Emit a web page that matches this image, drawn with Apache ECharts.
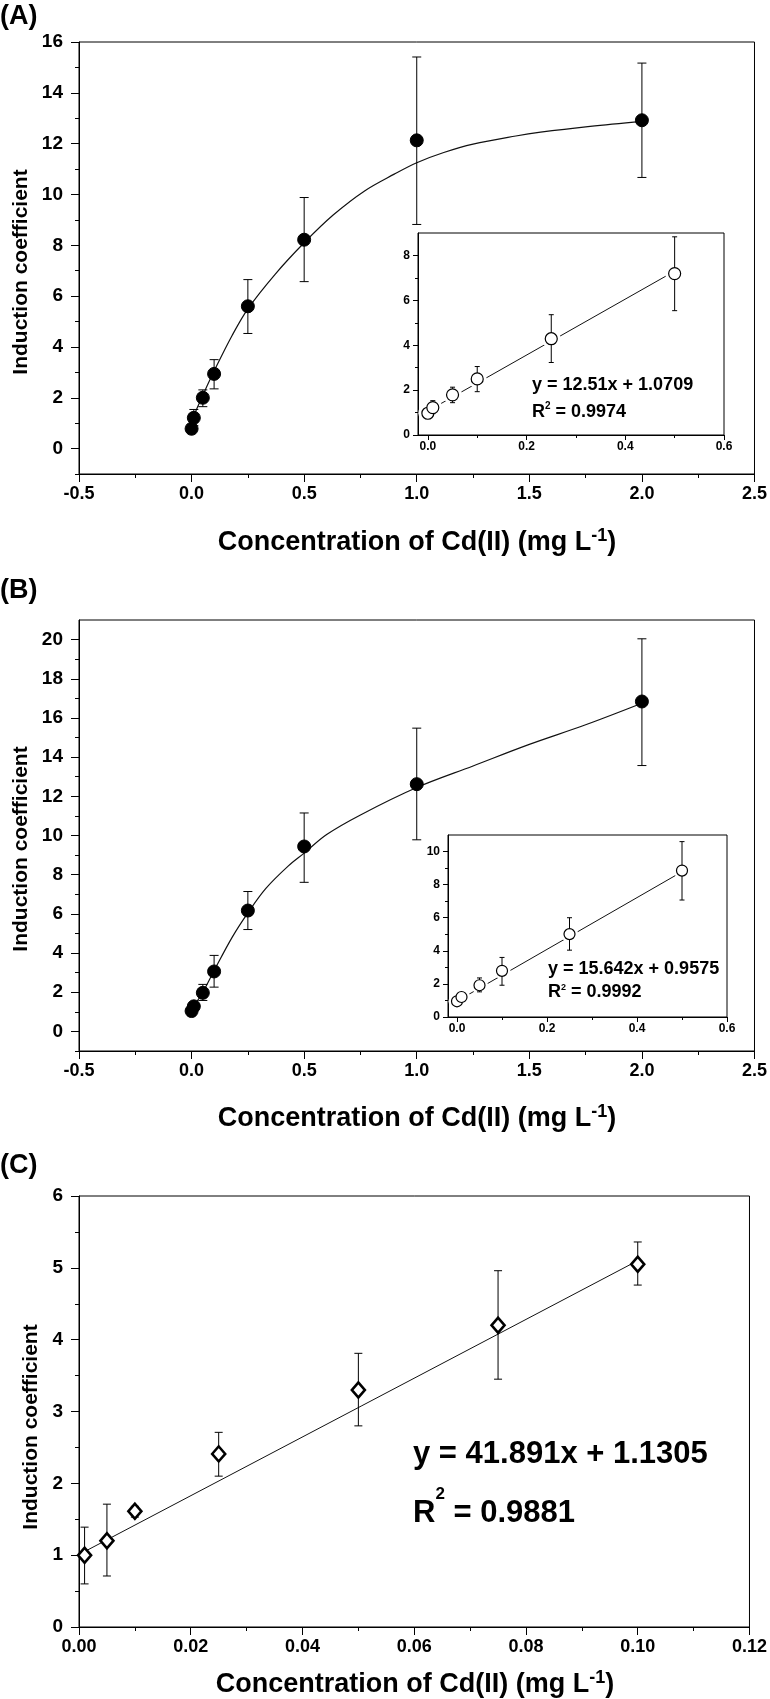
<!DOCTYPE html>
<html>
<head>
<meta charset="utf-8">
<script src="https://cdn.jsdelivr.net/npm/echarts@6/dist/echarts.min.js"></script>
<style>html,body{margin:0;padding:0;background:#fff}#c{width:770px;height:1699px}</style>
</head>
<body>
<div id="c"></div>
<script>
// ---------- DATA ----------
// Panel A (main)
const aX = [0, 0.01, 0.05, 0.1, 0.25, 0.5, 1.0, 2.0];
const aY = [0.78, 1.21, 2.0, 2.94, 5.6, 8.22, 12.13, 12.92];
const aLow = [0.72, 0.9, 1.65, 2.35, 4.53, 6.57, 8.82, 10.67];
const aHigh = [0.84, 1.54, 2.31, 3.5, 6.65, 9.88, 15.41, 15.17];
const aCurveX = [0.01, 0.05, 0.1, 0.18, 0.25, 0.37, 0.5, 0.63, 0.77, 0.9, 1.0, 1.12, 1.25, 1.44, 1.55, 1.77, 2.0];
const aCurveY = [1.3, 2.1, 3.05, 4.45, 5.5, 6.85, 8.1, 9.2, 10.15, 10.8, 11.25, 11.65, 11.98, 12.3, 12.45, 12.68, 12.88];
// Panel A (inset)
const aInX = [0, 0.01, 0.05, 0.1, 0.25, 0.5];
const aInY = [0.97, 1.22, 1.79, 2.5, 4.29, 7.19];
const aInLow = [0.85, 0.95, 1.44, 1.93, 3.23, 5.54];
const aInHigh = [1.1, 1.53, 2.13, 3.05, 5.36, 8.83];
const aInFitX = [0, 0.5];
const aInFitY = [1.07, 7.3];
// Panel B (main)
const bX = [0, 0.01, 0.05, 0.1, 0.25, 0.5, 1.0, 2.0];
const bY = [1.04, 1.28, 1.97, 3.06, 6.17, 9.44, 12.62, 16.84];
const bLow = [0.95, 1.15, 1.58, 2.26, 5.2, 7.61, 9.78, 13.57];
const bHigh = [1.12, 1.4, 2.4, 3.88, 7.14, 11.15, 15.48, 20.04];
const bCurveX = [0.01, 0.05, 0.1, 0.18, 0.25, 0.33, 0.43, 0.5, 0.6, 0.75, 1.0, 1.25, 1.5, 1.75, 2.0];
const bCurveY = [1.3, 2.0, 3.1, 4.8, 6.05, 7.3, 8.45, 9.1, 10.05, 11.05, 12.45, 13.55, 14.65, 15.65, 16.75];
// Panel B (inset)
const bInX = [0, 0.01, 0.05, 0.1, 0.25, 0.5];
const bInY = [0.95, 1.21, 1.92, 2.79, 5.01, 8.85];
const bInLow = [0.85, 1.0, 1.52, 1.92, 4.04, 7.07];
const bInHigh = [1.05, 1.4, 2.36, 3.6, 6.0, 10.6];
const bInFitX = [0, 0.5];
const bInFitY = [0.96, 8.78];
// Panel C
const cX = [0.001, 0.005, 0.01, 0.025, 0.05, 0.075, 0.1];
const cY = [1.0, 1.2, 1.61, 2.41, 3.3, 4.2, 5.05];
const cLow = [0.6, 0.71, 1.53, 2.1, 2.8, 3.45, 4.76];
const cHigh = [1.39, 1.71, 1.68, 2.71, 3.81, 4.96, 5.36];
const cFitX = [0.001, 0.1];
const cFitY = [1.05, 5.1];

// Tick values
const mainXTicks = [-0.5, 0, 0.5, 1.0, 1.5, 2.0, 2.5];
const mainXMinor = [-0.25, 0.25, 0.75, 1.25, 1.75, 2.25];
const aYTicks = [0, 2, 4, 6, 8, 10, 12, 14, 16];
const aYMinor = [-1, 1, 3, 5, 7, 9, 11, 13, 15];
const bYTicks = [0, 2, 4, 6, 8, 10, 12, 14, 16, 18, 20];
const bYMinor = [-1, 1, 3, 5, 7, 9, 11, 13, 15, 17, 19];
const inXTicks = [0, 0.2, 0.4, 0.6];
const inXMinor = [0.1, 0.3, 0.5];
const aInYTicks = [0, 2, 4, 6, 8];
const aInYMinor = [1, 3, 5, 7];
const bInYTicks = [0, 2, 4, 6, 8, 10];
const bInYMinor = [1, 3, 5, 7, 9];
const cXTicks = [0, 0.02, 0.04, 0.06, 0.08, 0.10, 0.12];
const cXMinor = [0.01, 0.03, 0.05, 0.07, 0.09, 0.11];
const cYTicks = [0, 1, 2, 3, 4, 5, 6];
const cYMinor = [0.5, 1.5, 2.5, 3.5, 4.5, 5.5];

// Texts
const xTitle = 'Concentration of Cd(II) (mg L';
const yTitle = 'Induction coefficient';
const eqA = 'y = 12.51x + 1.0709', r2A = ' = 0.9974';
const eqB = 'y = 15.642x + 0.9575', r2B = ' = 0.9992';
const eqC = 'y = 41.891x + 1.1305', r2C = ' = 0.9881';

// ---------- CHART ----------
const FONT = "'Liberation Sans', Arial, sans-serif";
const zip = (xs, ys) => xs.map((x, i) => [x, ys[i]]);
const zip3 = (xs, lo, hi) => xs.map((x, i) => [x, lo[i], hi[i]]);

function axisPair(dim, gi, min, max, majors, minors, o) {
  const major = {
    type: 'value', gridIndex: gi, min: min, max: max,
    position: dim === 'x' ? 'bottom' : 'left',
    axisLine: { show: true, onZero: false, lineStyle: { color: '#000', width: 1 } },
    axisTick: { show: true, inside: false, customValues: majors, length: o.tick, lineStyle: { color: '#000', width: 1 } },
    axisLabel: { show: true, customValues: majors, formatter: o.fmt, color: '#000', fontFamily: FONT,
      fontWeight: 'bold', fontSize: o.fs, margin: o.margin },
    splitLine: { show: false }, minorTick: { show: false }
  };
  const minor = {
    type: 'value', gridIndex: gi, min: min, max: max,
    position: dim === 'x' ? 'bottom' : 'left',
    axisLine: { show: false, onZero: false },
    axisTick: { show: true, inside: false, customValues: minors, length: o.minor, lineStyle: { color: '#000', width: 1 } },
    axisLabel: { show: false },
    splitLine: { show: false }
  };
  return [major, minor];
}

function errRender(cap, lw) {
  return function (params, api) {
    const x = api.value(0), lo = api.value(1), hi = api.value(2);
    const p1 = api.coord([x, lo]), p2 = api.coord([x, hi]);
    const st = { stroke: '#000', lineWidth: lw };
    return {
      type: 'group', children: [
        { type: 'line', shape: { x1: p1[0], y1: p1[1], x2: p2[0], y2: p2[1] }, style: st },
        { type: 'line', shape: { x1: p1[0] - cap, y1: p1[1], x2: p1[0] + cap, y2: p1[1] }, style: st },
        { type: 'line', shape: { x1: p2[0] - cap, y1: p2[1], x2: p2[0] + cap, y2: p2[1] }, style: st }
      ]
    };
  };
}

const f1 = v => v.toFixed(1);
const f2 = v => v.toFixed(2);
const f0 = v => String(Math.round(v));

const mainX = { tick: 8, minor: 4, fs: 18, margin: 11, fmt: f1 };
const mainY = { tick: 8, minor: 4, fs: 19, margin: 16, fmt: f0 };
const inX = { tick: 5, minor: 3, fs: 12, margin: 6, fmt: f1 };
const inY = { tick: 5, minor: 3, fs: 12, margin: 8, fmt: f0 };

const grids = [
  { left: 79, top: 42, width: 676, height: 432 },     // A main
  { left: 418, top: 233, width: 306, height: 202 },   // A inset
  { left: 79, top: 620, width: 676, height: 431 },    // B main
  { left: 448, top: 835, width: 279, height: 182 },   // B inset
  { left: 79, top: 1196, width: 672, height: 431 }    // C
].map(g => Object.assign({ show: true, borderColor: '#000', borderWidth: 1, backgroundColor: 'transparent', containLabel: false }, g));

const xAxis = [].concat(
  axisPair('x', 0, -0.5, 2.5, mainXTicks, mainXMinor, mainX),
  axisPair('x', 1, -0.02, 0.6, inXTicks, inXMinor, inX),
  axisPair('x', 2, -0.5, 2.5, mainXTicks, mainXMinor, mainX),
  axisPair('x', 3, -0.02, 0.6, inXTicks, inXMinor, inX),
  axisPair('x', 4, 0, 0.12, cXTicks, cXMinor, Object.assign({}, mainX, { fmt: f2, margin: 11 }))
);
const yAxis = [].concat(
  axisPair('y', 0, -1, 16, aYTicks, aYMinor, mainY),
  axisPair('y', 1, 0, 9, aInYTicks, aInYMinor, inY),
  axisPair('y', 2, -1, 21, bYTicks, bYMinor, mainY),
  axisPair('y', 3, 0, 11, bInYTicks, bInYMinor, inY),
  axisPair('y', 4, 0, 6, cYTicks, cYMinor, mainY)
);

function panelSeries(ai, d) {
  const s = [];
  if (d.curve) s.push({ type: 'line', xAxisIndex: ai, yAxisIndex: ai, data: d.curve, smooth: d.smooth || false,
    showSymbol: false, symbol: 'none', lineStyle: { color: '#111', width: d.lw || 1.1 }, z: 2, silent: true, animation: false });
  if (d.halo) s.push({ type: 'scatter', xAxisIndex: ai, yAxisIndex: ai, data: d.pts, symbol: 'circle', symbolSize: d.halo,
    itemStyle: { color: '#fff', opacity: 1 }, z: 3, silent: true, animation: false });
  s.push({ type: 'custom', xAxisIndex: ai, yAxisIndex: ai, data: d.err, renderItem: errRender(d.cap, 1), z: 4, clip: false, silent: true, animation: false });
  s.push({ type: 'scatter', xAxisIndex: ai, yAxisIndex: ai, data: d.pts, symbol: d.symbol, symbolSize: d.size,
    itemStyle: d.item, z: 5, silent: true, animation: false });
  return s;
}

const filled = { color: '#000', borderColor: '#000', borderWidth: 1, opacity: 1 };
const open = { color: '#fff', borderColor: '#000', borderWidth: 1.2, opacity: 1 };
const openDiamond = { color: '#fff', borderColor: '#000', borderWidth: 2.6, opacity: 1 };

const series = [].concat(
  panelSeries(0, { curve: zip(aCurveX, aCurveY), smooth: 0.35, lw: 1.2, err: zip3(aX, aLow, aHigh), cap: 4.5, pts: zip(aX, aY), symbol: 'circle', size: 13, item: filled }),
  panelSeries(2, { curve: zip(aInFitX, aInFitY), lw: 1, halo: 19, err: zip3(aInX, aInLow, aInHigh), cap: 2.5, pts: zip(aInX, aInY), symbol: 'circle', size: 12, item: open }),
  panelSeries(4, { curve: zip(bCurveX, bCurveY), smooth: 0.35, lw: 1.2, err: zip3(bX, bLow, bHigh), cap: 4.5, pts: zip(bX, bY), symbol: 'circle', size: 13, item: filled }),
  panelSeries(6, { curve: zip(bInFitX, bInFitY), lw: 1, halo: 17, err: zip3(bInX, bInLow, bInHigh), cap: 2.5, pts: zip(bInX, bInY), symbol: 'circle', size: 11, item: open }),
  panelSeries(8, { curve: zip(cFitX, cFitY), lw: 1, err: zip3(cX, cLow, cHigh), cap: 4, pts: zip(cX, cY), symbol: 'diamond', size: [13, 15], item: openDiamond })
);

function txt(x, y, text, fs, extra) {
  return Object.assign({ type: 'text', x: x, y: y, silent: true,
    style: Object.assign({ text: text, fontSize: fs, fontWeight: 'bold', fontFamily: FONT, fill: '#000',
      textAlign: 'left', textVerticalAlign: 'middle' }, extra && extra.style || {}) }, extra && extra.el || {});
}
function xTitleEl(cx, cy) {
  return { type: 'text', x: cx, y: cy, silent: true, style: {
    text: '{a|' + xTitle + '}{s|-1}{a|)}', textAlign: 'center', textVerticalAlign: 'middle',
    rich: {
      a: { fontSize: 27, fontFamily: FONT, fontWeight: 'bold', fill: '#000', verticalAlign: 'bottom' },
      s: { fontSize: 18, fontFamily: FONT, fontWeight: 'bold', fill: '#000', padding: [0, 0, 11, 0], verticalAlign: 'bottom' }
    } } };
}
function yTitleEl(cx, cy) {
  return { type: 'text', x: cx, y: cy, rotation: Math.PI / 2, silent: true, style: {
    text: yTitle, fontSize: 21, fontWeight: 'bold', fontFamily: FONT, fill: '#000',
    textAlign: 'center', textVerticalAlign: 'middle' } };
}
function r2El(x, y, rest, fs, sfs, pad) {
  return { type: 'text', x: x, y: y, silent: true, style: {
    text: '{r|R}{s|2}{r|' + rest + '}', textAlign: 'left', textVerticalAlign: 'middle',
    rich: {
      r: { fontSize: fs, fontFamily: FONT, fontWeight: 'bold', fill: '#000', verticalAlign: 'bottom' },
      s: { fontSize: sfs, fontFamily: FONT, fontWeight: 'bold', fill: '#000', padding: [0, 0, pad, 0], verticalAlign: 'bottom' }
    } } };
}

const graphic = [
  txt(0, 17, '(A)', 27),
  txt(0, 591, '(B)', 27),
  txt(0, 1166, '(C)', 27),
  xTitleEl(417, 542),
  xTitleEl(417, 1118),
  xTitleEl(415, 1684),
  yTitleEl(21, 272),
  yTitleEl(21, 849),
  yTitleEl(31, 1427),
  txt(532, 385, eqA, 18),
  r2El(532, 411, r2A, 18, 10, 10),
  txt(548, 969, eqB, 18),
  r2El(548, 992, r2B, 18, 9, 9),
  txt(413, 1454, eqC, 31),
  r2El(413, 1507, r2C, 31, 17, 26)
];

const chart = echarts.init(document.getElementById('c'), null, { renderer: 'canvas' });
chart.setOption({
  backgroundColor: '#fff',
  animation: false,
  grid: grids,
  xAxis: xAxis,
  yAxis: yAxis,
  series: series,
  graphic: graphic
});
</script>
</body>
</html>
